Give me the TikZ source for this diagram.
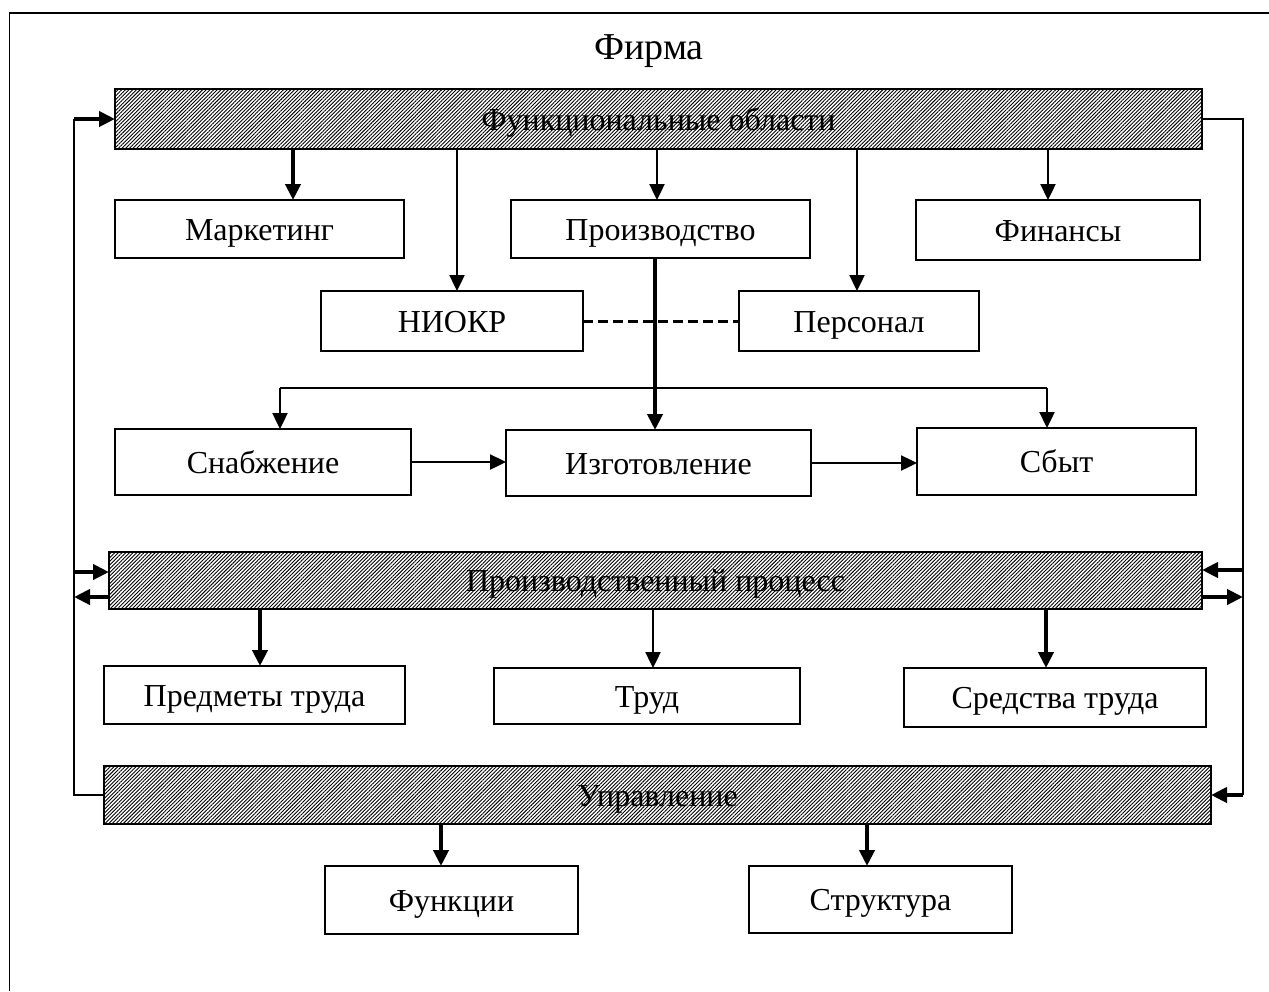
\documentclass[tikz,border=0pt]{standalone}
\usepackage{fontspec}
\setmainfont{Liberation Serif}
\usetikzlibrary{arrows.meta,patterns.meta,calc}

% box given by its corners: style, name, x1, y1, x2, y2, text
\newcommand\cornerbox[7]{%
  \node[#1, minimum width={(#5-#3)*0.5pt}, minimum height={(#6-#4)*0.5pt}]
    (#2) at ({(#3+#5)/2},{(#4+#6)/2}) {#7};}

\begin{document}
\begin{tikzpicture}[x=0.5pt,y=-0.5pt,
  every node/.style={font=\fontsize{16}{19}\selectfont},
  box/.style={draw, line width=0.8pt, inner sep=0pt, outer sep=0pt,
    text height=14pt, text depth=3pt},
  bar/.style={box, pattern={Lines[angle=45,distance=1.3pt,line width=0.45pt]}},
  thinline/.style={line width=0.8pt},
  tip/.style={-{Triangle[length=8pt,width=7.5pt]}},
  medarr/.style={tip, line width=1.2pt},
  thickarr/.style={tip, line width=2pt},
  dashline/.style={line width=1.5pt, dash pattern=on 5pt off 2.5pt}]

\useasboundingbox (0,0) rectangle (1269,991);

% outer frame
\draw[thinline] (1269,13) -- (9.5,13) -- (9.5,991);

% title
\node[font=\fontsize{19}{22}\selectfont] (title) at (649,51) {Фирма};

% bars
\cornerbox{bar}{fa}{115}{89}{1202}{149}{Функциональные области}
\cornerbox{bar}{pp}{109}{552}{1202}{609}{Производственный процесс}
\cornerbox{bar}{upr}{104}{766}{1211}{824}{Управление}

% functional areas
\cornerbox{box}{mark}{115}{200}{404}{258}{Маркетинг}
\cornerbox{box}{prod}{511}{200}{810}{258}{Производство}
\cornerbox{box}{fin}{916}{200}{1200}{260}{Финансы}
\cornerbox{box}{niokr}{321}{291}{583}{351}{НИОКР}
\cornerbox{box}{pers}{739}{291}{979}{351}{Персонал}

% production chain
\cornerbox{box}{snab}{115}{429}{411}{495}{Снабжение}
\cornerbox{box}{izg}{506}{430}{811}{496}{Изготовление}
\cornerbox{box}{sbyt}{917}{428}{1196}{495}{Сбыт}

% production factors
\cornerbox{box}{pt}{104}{666}{405}{724}{Предметы труда}
\cornerbox{box}{trud}{494}{668}{800}{724}{Труд}
\cornerbox{box}{st}{904}{668}{1206}{727}{Средства труда}

% management
\cornerbox{box}{func}{325}{866}{578}{934}{Функции}
\cornerbox{box}{str}{749}{866}{1012}{933}{Структура}

% x positions of the vertical connectors
\coordinate (xMark) at (293,0);
\coordinate (xNiokr) at (457,0);
\coordinate (xProd) at (657,0);
\coordinate (xPers) at (857,0);
\coordinate (xFin) at (1048,0);
\coordinate (xIzg) at (655,0);
\coordinate (xPt) at (260,0);
\coordinate (xTrud) at (653,0);
\coordinate (xSt) at (1046,0);
\coordinate (xFunc) at (441,0);
\coordinate (xStr) at (867,0);
\coordinate (lx) at (74,0);
\coordinate (rx) at (1243,0);
\coordinate (bL) at (280,388);
\coordinate (bR) at (1047,388);

% from the functional areas bar
\draw[thickarr] (fa.south -| xMark) -- (mark.north -| xMark);
\draw[medarr] (fa.south -| xNiokr) -- (niokr.north -| xNiokr);
\draw[medarr] (fa.south -| xProd) -- (prod.north -| xProd);
\draw[medarr] (fa.south -| xPers) -- (pers.north -| xPers);
\draw[medarr] (fa.south -| xFin) -- (fin.north -| xFin);

\draw[dashline] (niokr.east) -- (pers.west);

% production into the chain
\draw[thickarr] (prod.south -| xIzg) -- (izg.north -| xIzg);
\draw[thinline] (bL) -- (bR);
\draw[medarr] (bL) -- (snab.north -| bL);
\draw[medarr] (bR) -- (sbyt.north -| bR);
\draw[medarr] (snab.east) -- (izg.west |- snab.east);
\draw[medarr] (izg.east) -- (sbyt.west |- izg.east);

% production process
\draw[thickarr] (pp.south -| xPt) -- (pt.north -| xPt);
\draw[medarr] (pp.south -| xTrud) -- (trud.north -| xTrud);
\draw[thickarr] (pp.south -| xSt) -- (st.north -| xSt);

% management
\draw[thickarr] (upr.south -| xFunc) -- (func.north -| xFunc);
\draw[thickarr] (upr.south -| xStr) -- (str.north -| xStr);

% left feedback loop
\draw[thinline] (upr.west) -- (upr.west -| lx) -- (fa.west -| lx);
\draw[thickarr] (fa.west -| lx) -- (fa.west);
\draw[thickarr] ($(pp.west -| lx)+(0,-8.5)$) -- ($(pp.west)+(0,-8.5)$);
\draw[thickarr] ($(pp.west)+(0,16.5)$) -- ($(pp.west -| lx)+(0,16.5)$);

% right feedback loop
\draw[thinline] (fa.east) -- (fa.east -| rx) -- (upr.east -| rx);
\draw[thickarr] (upr.east -| rx) -- (upr.east);
\draw[thickarr] ($(pp.east -| rx)+(0,-10.5)$) -- ($(pp.east)+(0,-10.5)$);
\draw[thickarr] ($(pp.east)+(0,16.5)$) -- ($(pp.east -| rx)+(0,16.5)$);

\end{tikzpicture}
\end{document}
